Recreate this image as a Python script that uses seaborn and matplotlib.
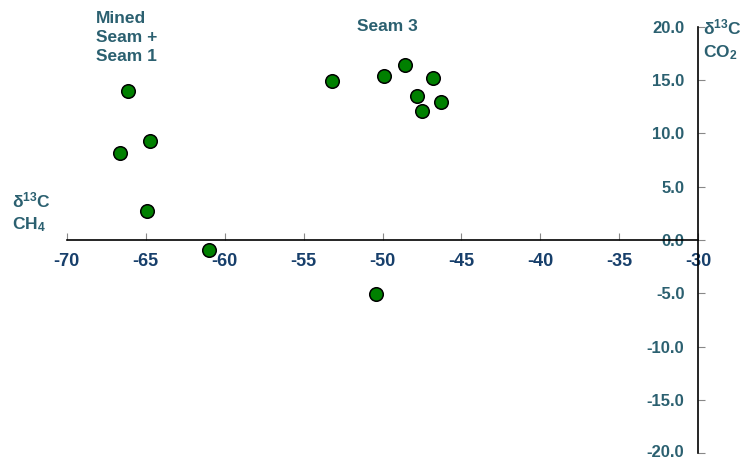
import matplotlib
matplotlib.use("Agg")
import matplotlib.pyplot as plt
import matplotlib.transforms as mtransforms
import seaborn as sns
import pandas as pd

# Data (δ13C CH4 vs δ13C CO2)
ch4 = [-66.1, -66.6, -64.7, -64.9, -61.0, -50.4, -53.2, -49.9, -48.6, -46.8, -47.8, -47.5, -46.3]
co2 = [14.0, 8.2, 9.25, 2.7, -0.9, -5.05, 14.9, 15.4, 16.4, 15.2, 13.5, 12.1, 12.9]
x_ticks = [-70, -65, -60, -55, -50, -45, -40, -35, -30]
y_ticks = [-20.0, -15.0, -10.0, -5.0, 0.0, 5.0, 10.0, 15.0, 20.0]

df = pd.DataFrame({"ch4": ch4, "co2": co2})

sns.set_theme(style="white")
plt.rcParams["font.family"] = ["Liberation Sans", "DejaVu Sans"]
plt.rcParams["mathtext.fontset"] = "custom"
plt.rcParams["mathtext.rm"] = "Liberation Sans:bold"
plt.rcParams["mathtext.it"] = "Liberation Sans:bold"
plt.rcParams["mathtext.bf"] = "Liberation Sans:bold"
plt.rcParams["mathtext.default"] = "rm"

XCOL = "#173f6b"
YCOL = "#2b6070"

fig = plt.figure(figsize=(7.42, 4.59), dpi=100)
ax = fig.add_axes([0.0899, 0.0124, 0.8512, 0.9294])

sns.scatterplot(data=df, x="ch4", y="co2", ax=ax, s=95, color="#008000",
                edgecolor="black", linewidth=1.1, zorder=3, legend=False)

ax.set_xlim(-70, -30)
ax.set_ylim(-20, 20)
ax.set_xticks(x_ticks)
ax.set_yticks(y_ticks)
ax.set_xticklabels([f"{v:d}" for v in x_ticks])
ax.set_yticklabels([f"{v:.1f}" for v in y_ticks])
ax.set_xlabel("")
ax.set_ylabel("")

ax.spines["top"].set_visible(False)
ax.spines["right"].set_visible(False)
ax.spines["bottom"].set_position(("data", 0))
ax.spines["left"].set_position(("data", -30))
for sp in ("bottom", "left"):
    ax.spines[sp].set_color("black")
    ax.spines[sp].set_linewidth(1.2)

ax.tick_params(axis="x", direction="in", length=5, width=0.8, color="#888888",
               bottom=True, labelsize=12, labelcolor=XCOL, pad=9)
ax.tick_params(axis="y", direction="in", length=5, width=0.8, color="#888888",
               left=True, labelsize=12, labelcolor=YCOL, pad=10)
for lab in ax.get_xticklabels():
    lab.set_fontweight("bold")
    lab.set_family(["Liberation Sans Narrow", "Liberation Sans", "DejaVu Sans"])
    lab.set_fontsize(13)
ylabs = ax.get_yticklabels()
for lab in ylabs:
    lab.set_fontweight("bold")
    lab.set_verticalalignment("center_baseline")
# nudge the bottom-most label up slightly so it stays inside the canvas
ylabs[0].set_transform(ylabs[0].get_transform() +
                       mtransforms.ScaledTranslation(0, 2 / 100, fig.dpi_scale_trans))

ax.grid(False)

tkw = dict(transform=fig.transFigure, color=YCOL, fontsize=12.5, fontweight="bold",
           va="top", ha="left", linespacing=1.35)
def fx(px):
    return px / 742
def fy(py):
    return 1 - py / 459

fig.text(fx(96), fy(11), "Mined\nSeam +\nSeam 1", **tkw)
fig.text(fx(357), fy(19), "Seam 3", **tkw)
fig.text(fx(703), fy(18), "δ$^{13}$C\nCO$_{2}$", **tkw)
fig.text(fx(12), fy(190), "δ$^{13}$C\nCH$_{4}$", **tkw)

fig.savefig("out.png", dpi=100, facecolor="white")
